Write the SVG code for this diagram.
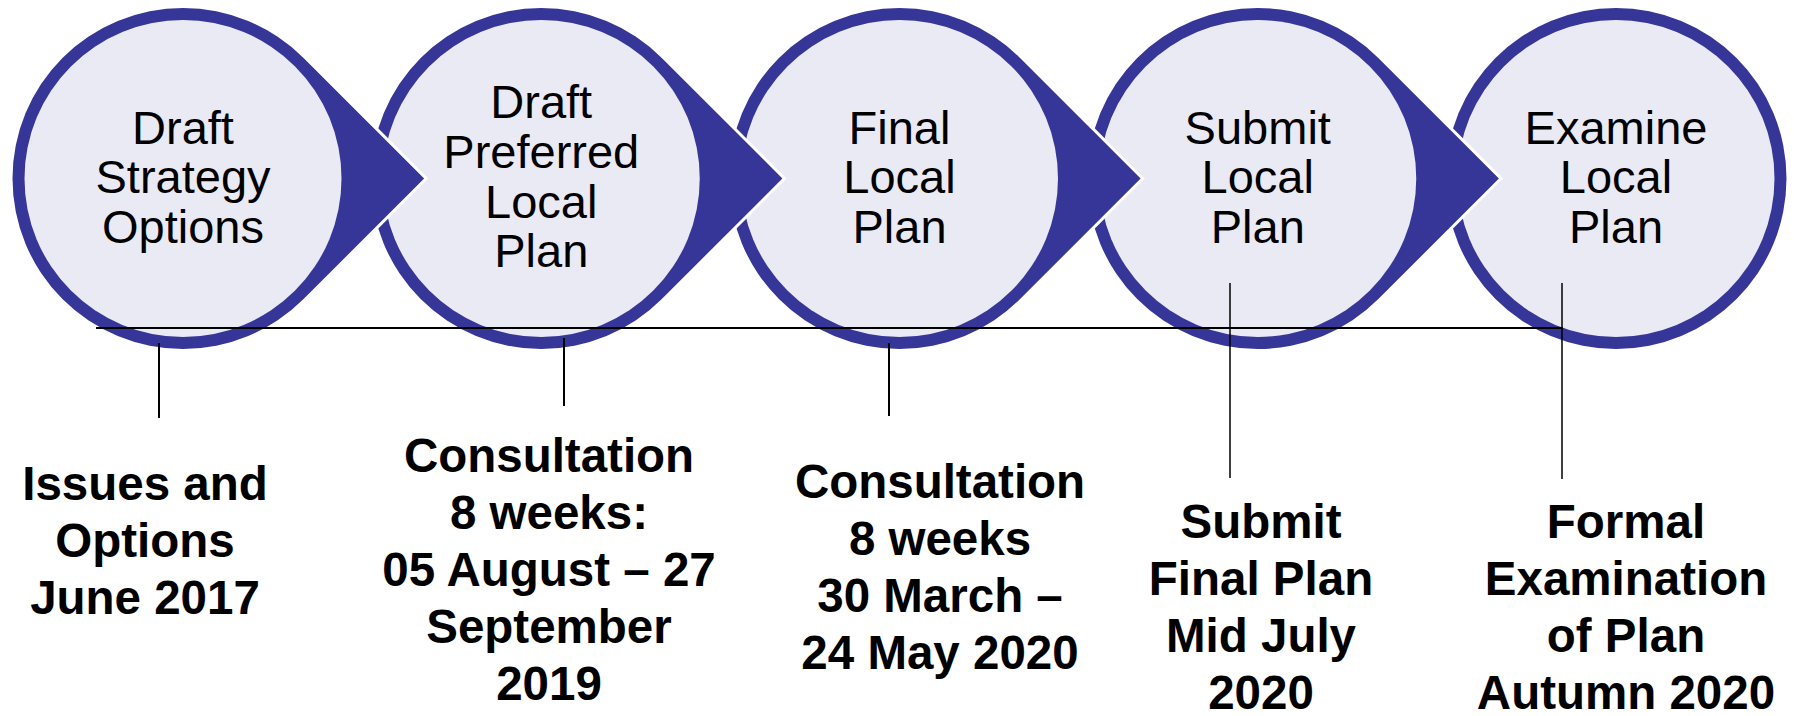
<svg xmlns="http://www.w3.org/2000/svg" xmlns:xlink="http://www.w3.org/1999/xlink" width="1794" height="716" viewBox="0 0 1794 716">
<style>
.drop{fill:#363698;stroke:#ffffff;stroke-width:6;stroke-linejoin:miter;stroke-miterlimit:10;paint-order:stroke}
.ring{fill:#363698}
.inner{fill:#EAEAF5}
.ct{font-family:"Liberation Sans",Arial,sans-serif;font-size:47px;fill:#000;text-anchor:middle}
.lt{font-family:"Liberation Sans",Arial,sans-serif;font-size:47.5px;font-weight:bold;fill:#000;text-anchor:middle}
.ln{stroke:#000;fill:none}
</style>
<defs>
<path id="drop" d="M241.13,0 L120.56,120.56 A170.5,170.5 0 1 1 120.56,-120.56 Z"/>
</defs>
<rect width="1794" height="716" fill="#ffffff"/>

<g id="node5" transform="translate(1616,178.5)">
<circle class="ring" r="170.5"/>
<circle class="inner" r="158.5"/>
<text class="ct" y="-35">Examine</text>
<text class="ct" y="14.5">Local</text>
<text class="ct" y="64">Plan</text>
</g>

<g id="node4" transform="translate(1257.75,178.5)">
<use href="#drop" xlink:href="#drop" class="drop"/>
<circle class="inner" r="158.5"/>
<text class="ct" y="-35">Submit</text>
<text class="ct" y="14.5">Local</text>
<text class="ct" y="64">Plan</text>
</g>

<g id="node3" transform="translate(899.5,178.5)">
<use href="#drop" xlink:href="#drop" class="drop"/>
<circle class="inner" r="158.5"/>
<text class="ct" y="-35">Final</text>
<text class="ct" y="14.5">Local</text>
<text class="ct" y="64">Plan</text>
</g>

<g id="node2" transform="translate(541.25,178.5)">
<use href="#drop" xlink:href="#drop" class="drop"/>
<circle class="inner" r="158.5"/>
<text class="ct" y="-60.5">Draft</text>
<text class="ct" y="-10.5">Preferred</text>
<text class="ct" y="39.5">Local</text>
<text class="ct" y="88.5">Plan</text>
</g>

<g id="node1" transform="translate(183,178.5)">
<use href="#drop" xlink:href="#drop" class="drop"/>
<circle class="inner" r="158.5"/>
<text class="ct" y="-35">Draft</text>
<text class="ct" y="14.5">Strategy</text>
<text class="ct" y="64">Options</text>
</g>

<g id="connectors">
<line class="ln" x1="96" y1="328" x2="1563" y2="328" stroke-width="2"/>
<line class="ln" x1="159" y1="343" x2="159" y2="418" stroke-width="2"/>
<line class="ln" x1="564" y1="338" x2="564" y2="406" stroke-width="2"/>
<line class="ln" x1="889" y1="343" x2="889" y2="416" stroke-width="2"/>
<line class="ln" x1="1230" y1="283" x2="1230" y2="478" stroke-width="1.5"/>
<line class="ln" x1="1562" y1="283" x2="1562" y2="479" stroke-width="1.5"/>
</g>

<g id="label1">
<text class="lt" x="145" y="500">Issues and</text>
<text class="lt" x="145" y="557">Options</text>
<text class="lt" x="145" y="614">June 2017</text>
</g>
<g id="label2">
<text class="lt" x="549" y="472">Consultation</text>
<text class="lt" x="549" y="529">8 weeks:</text>
<text class="lt" x="549" y="586">05 August – 27</text>
<text class="lt" x="549" y="643">September</text>
<text class="lt" x="549" y="700">2019</text>
</g>
<g id="label3">
<text class="lt" x="940" y="498">Consultation</text>
<text class="lt" x="940" y="555">8 weeks</text>
<text class="lt" x="940" y="612">30 March –</text>
<text class="lt" x="940" y="669">24 May 2020</text>
</g>
<g id="label4">
<text class="lt" x="1261" y="538">Submit</text>
<text class="lt" x="1261" y="595">Final Plan</text>
<text class="lt" x="1261" y="652">Mid July</text>
<text class="lt" x="1261" y="709">2020</text>
</g>
<g id="label5">
<text class="lt" x="1626" y="538">Formal</text>
<text class="lt" x="1626" y="595">Examination</text>
<text class="lt" x="1626" y="652">of Plan</text>
<text class="lt" x="1626" y="709">Autumn 2020</text>
</g>
</svg>
